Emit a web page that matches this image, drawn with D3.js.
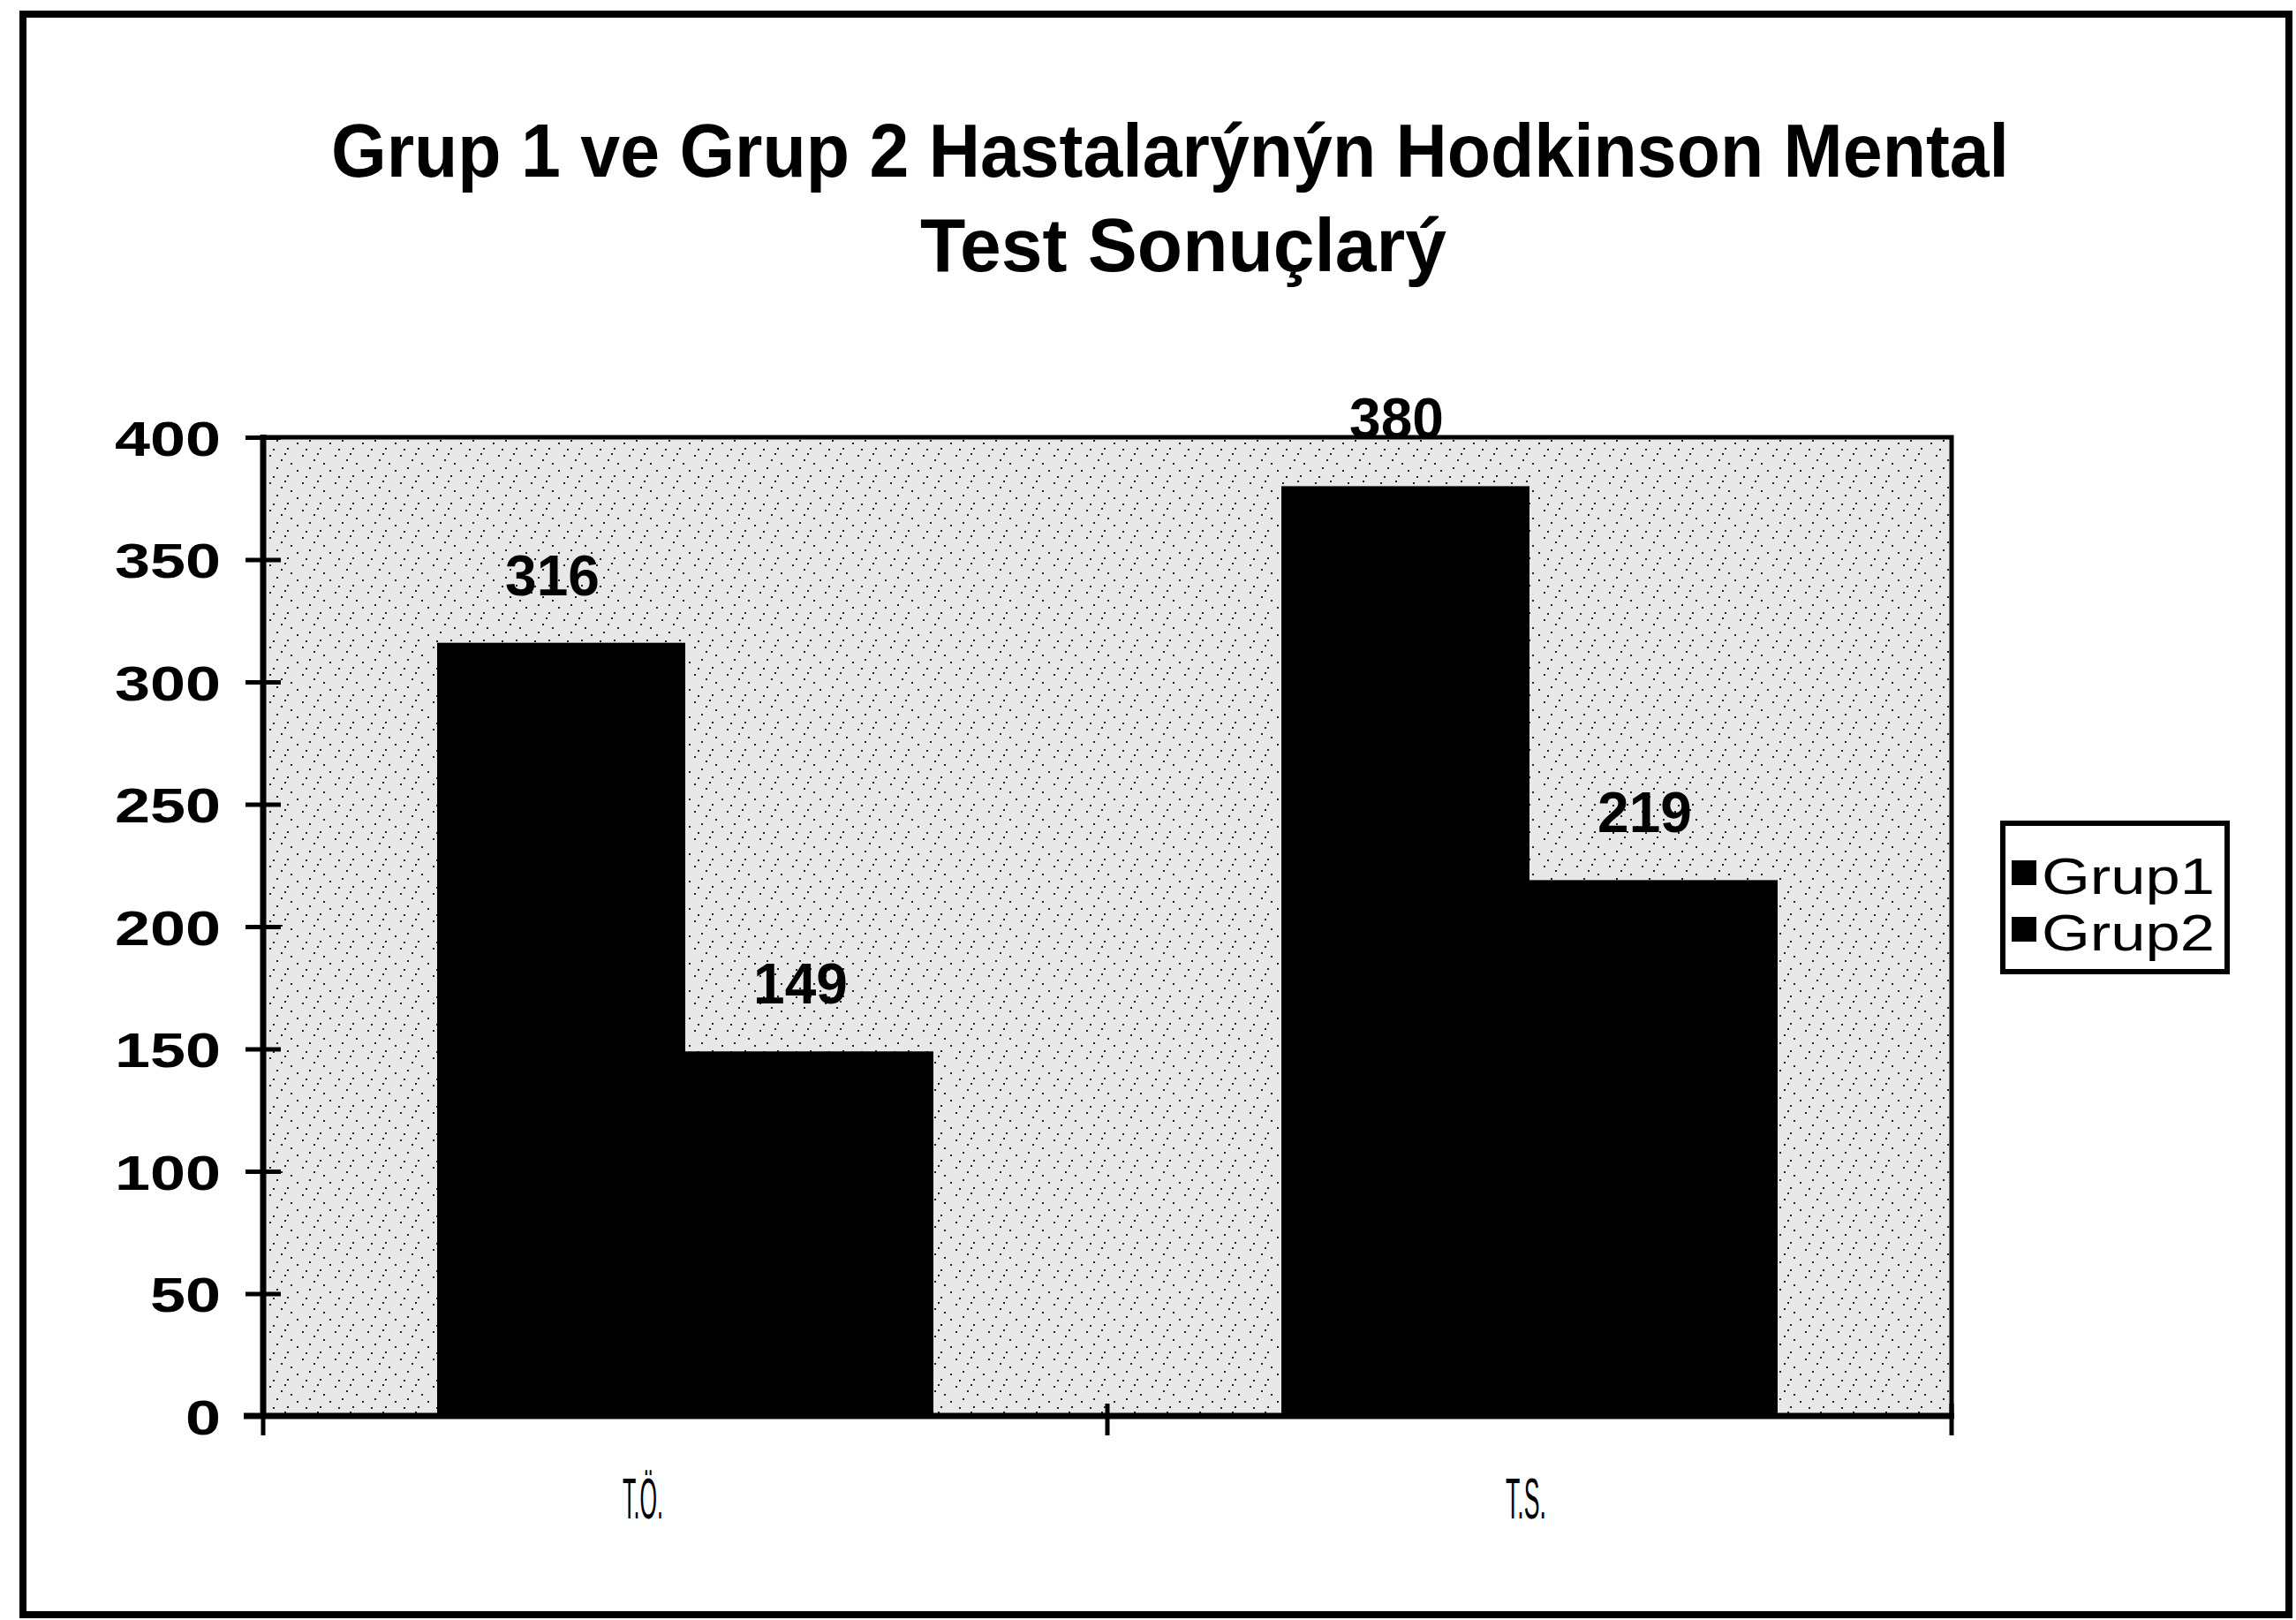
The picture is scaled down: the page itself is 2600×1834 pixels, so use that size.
<!DOCTYPE html>
<html>
<head>
<meta charset="utf-8">
<script src="https://cdnjs.cloudflare.com/ajax/libs/d3/7.8.5/d3.min.js"></script>
<style>
    html, body { margin: 0; padding: 0; background: #fff; }
    svg { display: block; font-family: "Liberation Sans", Arial, sans-serif; }
</style>
</head>
<body>
<svg id="chart" width="2600" height="1834"></svg>
<script>
const titleLines = ["Grup 1 ve Grup 2 Hastalarýnýn Hodkinson Mental", "Test Sonuçlarý"];
const categories = ["T.Ö.", "T.S."];
const seriesNames = ["Grup1", "Grup2"];
const grup1 = [316, 380];
const grup2 = [149, 219];
const yTicks = [0, 50, 100, 150, 200, 250, 300, 350, 400];

function drawChart() {
    const plot = { left: 298, top: 495, right: 2210, bottom: 1603 };

    const svg = d3.select("#chart");

    // scanned-paper speckle used as the plot area fill
    const defs = svg.append("defs");
    const pat = defs.append("pattern")
        .attr("id", "speckle")
        .attr("patternUnits", "userSpaceOnUse")
        .attr("width", 37)
        .attr("height", 31);
    pat.append("rect").attr("width", 37).attr("height", 31).attr("fill", "#e8e8e8");
    [[3, 5], [17, 2], [29, 11], [9, 19], [22, 24], [33, 28], [13, 12], [26, 17]].forEach(([px, py]) => {
        pat.append("rect").attr("x", px).attr("y", py).attr("width", 2).attr("height", 2).attr("fill", "#222");
    });

    // page frame
    svg.append("rect")
        .attr("x", 26).attr("y", 16)
        .attr("width", 2566).attr("height", 1812)
        .attr("fill", "none")
        .attr("stroke", "#000")
        .attr("stroke-width", 8);

    // title
    const title = svg.append("g")
        .attr("font-weight", "bold")
        .attr("font-size", 86)
        .attr("text-anchor", "middle");
    title.append("text")
        .attr("x", 1325).attr("y", 200)
        .attr("textLength", 1900)
        .attr("lengthAdjust", "spacingAndGlyphs")
        .text(titleLines[0]);
    title.append("text")
        .attr("x", 1340).attr("y", 307)
        .attr("textLength", 596)
        .attr("lengthAdjust", "spacingAndGlyphs")
        .text(titleLines[1]);

    const data = categories.map((c, i) => ({ category: c, values: [grup1[i], grup2[i]] }));

    const x0 = d3.scaleBand()
        .domain(categories)
        .range([plot.left, plot.right])
        .padding(0);

    const gap = 197;
    const x1 = d3.scaleBand()
        .domain(seriesNames)
        .range([gap, x0.bandwidth() - gap])
        .padding(0);

    const y = d3.scaleLinear()
        .domain([0, 400])
        .range([plot.bottom, plot.top]);

    // plot area
    svg.append("rect")
        .attr("x", plot.left).attr("y", plot.top)
        .attr("width", plot.right - plot.left)
        .attr("height", plot.bottom - plot.top)
        .attr("fill", "url(#speckle)")
        .attr("stroke", "#000")
        .attr("stroke-width", 5);

    // bars
    const groups = svg.append("g")
        .selectAll("g")
        .data(data)
        .join("g")
        .attr("transform", d => `translate(${x0(d.category)},0)`);

    groups.selectAll("rect")
        .data(d => d.values.map((v, j) => ({ key: seriesNames[j], value: v })))
        .join("rect")
        .attr("x", d => x1(d.key))
        .attr("y", d => y(d.value))
        .attr("width", x1.bandwidth())
        .attr("height", d => y(0) - y(d.value))
        .attr("fill", "#000");

    // data labels
    groups.selectAll("text")
        .data(d => d.values.map((v, j) => ({ key: seriesNames[j], value: v })))
        .join("text")
        .attr("x", d => x1(d.key) + x1.bandwidth() / 2 - 10)
        .attr("y", d => y(d.value) - 54)
        .attr("text-anchor", "middle")
        .attr("font-weight", "bold")
        .attr("font-size", 64)
        .text(d => d.value);

    // y axis
    const yAxis = svg.append("g")
        .attr("transform", `translate(${plot.left},0)`)
        .call(d3.axisLeft(y).tickValues(yTicks).tickSize(0).tickPadding(48));
    yAxis.select(".domain").remove();
    yAxis.selectAll(".tick text")
        .attr("font-family", "Liberation Sans, Arial, sans-serif")
        .attr("font-size", 56)
        .attr("font-weight", "bold")
        .attr("fill", "#000")
        .attr("dy", "0.36em")
        .attr("textLength", d => String(d).length * 40)
        .attr("lengthAdjust", "spacingAndGlyphs");
    yAxis.selectAll(".tick")
        .append("line")
        .attr("x1", -20).attr("x2", 20)
        .attr("stroke", "#000")
        .attr("stroke-width", 5);
    yAxis.append("line")
        .attr("y1", plot.top - 3).attr("y2", plot.bottom + 3)
        .attr("stroke", "#000")
        .attr("stroke-width", 7);

    // x axis
    const xAxis = svg.append("g")
        .attr("transform", `translate(0,${plot.bottom})`)
        .call(d3.axisBottom(x0).tickSize(0).tickPadding(116));
    xAxis.select(".domain").remove();
    xAxis.selectAll(".tick text")
        .attr("font-family", "Liberation Sans, Arial, sans-serif")
        .attr("font-size", 64)
        .attr("fill", "#000")
        .attr("dy", 0)
        .attr("dx", (d, i) => i === 0 ? -48 : -4)
        .attr("textLength", 46)
        .attr("lengthAdjust", "spacingAndGlyphs");
    xAxis.append("line")
        .attr("x1", plot.left - 22).attr("x2", plot.right + 3)
        .attr("stroke", "#000")
        .attr("stroke-width", 7);
    xAxis.selectAll(".sep")
        .data([plot.left, x0(categories[1]), plot.right])
        .join("line")
        .attr("class", "sep")
        .attr("x1", d => d).attr("x2", d => d)
        .attr("y1", -14).attr("y2", 22)
        .attr("stroke", "#000")
        .attr("stroke-width", 5);

    // legend
    const legend = svg.append("g").attr("transform", "translate(2268,932)");
    legend.append("rect")
        .attr("width", 254).attr("height", 168)
        .attr("fill", "#fff")
        .attr("stroke", "#000")
        .attr("stroke-width", 6);
    const item = legend.selectAll(".item")
        .data(seriesNames)
        .join("g")
        .attr("class", "item")
        .attr("transform", (d, i) => `translate(0,${i * 64})`);
    item.append("rect")
        .attr("x", 10).attr("y", 42)
        .attr("width", 28).attr("height", 28)
        .attr("fill", "#000");
    item.append("text")
        .attr("x", 44).attr("y", 80)
        .attr("font-size", 58)
        .attr("textLength", 196)
        .attr("lengthAdjust", "spacingAndGlyphs")
        .text(d => d);
}

drawChart();
</script>
</body>
</html>
